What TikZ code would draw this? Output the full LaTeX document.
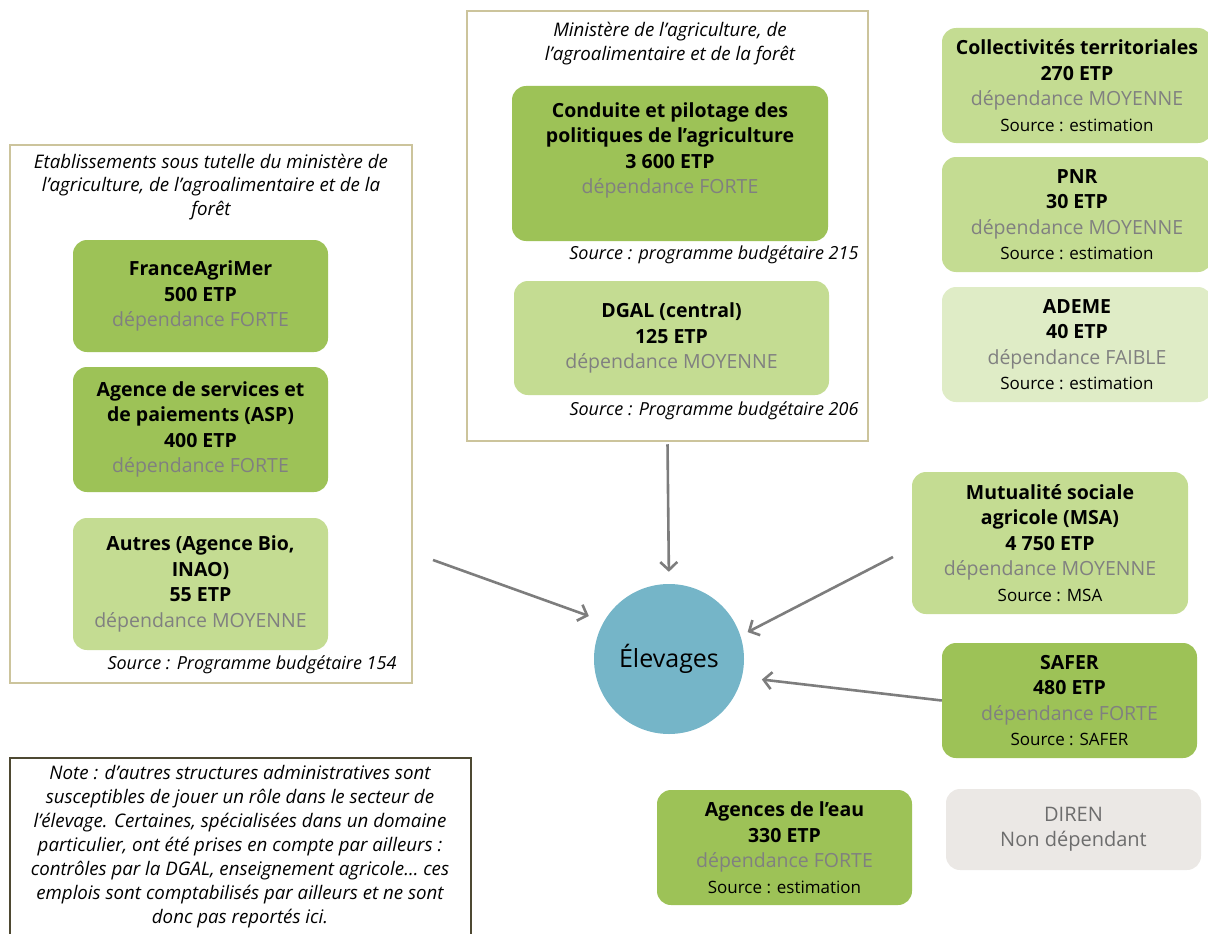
\documentclass[tikz,border=0pt]{standalone}
\usepackage{fontspec}
\setmainfont{Open Sans}
\usetikzlibrary{arrows.meta}
\definecolor{vertfort}{RGB}{157,194,87}
\definecolor{vertmoyen}{RGB}{196,220,146}
\definecolor{vertfaible}{RGB}{223,236,198}
\definecolor{grisnon}{RGB}{235,232,229}
\definecolor{grisdep}{RGB}{128,128,128}
\definecolor{grisfleche}{RGB}{125,125,125}
\definecolor{bleuelev}{RGB}{117,181,200}
\definecolor{kaki}{RGB}{204,196,156}
\definecolor{olive}{RGB}{78,73,50}
\newcommand{\dep}[1]{{\normalfont\color{grisdep}dépendance #1}}
\newcommand{\src}[1]{{\normalfont\fontsize{17}{22}\selectfont #1}}
\tikzset{
	boite/.style={rounded corners=14pt, align=center, inner sep=0pt, font=\fontsize{19.5}{25.5}\selectfont\bfseries},
	forte/.style={boite, fill=vertfort},
	moyenne/.style={boite, fill=vertmoyen},
	faible/.style={boite, fill=vertfaible},
	nondep/.style={boite, fill=grisnon, font=\fontsize{20}{25.5}\selectfont, text=grisdep!85!black},
	cadre/.style={draw=kaki, line width=2.5pt, fill=white, inner sep=0pt},
	titre/.style={align=center, font=\fontsize{18.7}{23.5}\selectfont\itshape},
	source/.style={anchor=east, font=\fontsize{18}{20}\selectfont\itshape},
	fleche/.style={draw=grisfleche, line width=2.6pt, -{Straight Barb[length=8pt,width=17pt]}},
}
\begin{document}
\begin{tikzpicture}[x=1pt,y=-1pt]
	\useasboundingbox (0,0) rectangle (1208,934);
	\node[cadre, minimum width=402pt, minimum height=538pt] (etab) at (211,414) {};
	\node[titre] (etabtitre) at (211,187) {Etablissements sous tutelle du ministère de\\l’agriculture, de l’agroalimentaire et de la\\forêt};
	\node[forte, minimum width=255pt, minimum height=112pt] (fam) at (200.5,296) {FranceAgriMer\\500 ETP\\\dep{FORTE}};
	\node[forte, minimum width=255pt, minimum height=125pt] (asp) at (200.5,429.5) {Agence de services et\\de paiements (ASP)\\400 ETP\\\dep{FORTE}};
	\node[moyenne, minimum width=255pt, minimum height=132pt] (autres) at (200.5,584) {Autres (Agence Bio,\\INAO)\\55 ETP\\\dep{MOYENNE}};
	\node[source] (src154) at (400,665) {Source : Programme budgétaire 154};

	\node[cadre, minimum width=401pt, minimum height=430pt] (minist) at (667.5,226) {};
	\node[titre] (ministitre) at (670,43.5) {Ministère de l’agriculture, de\\l’agroalimentaire et de la forêt};
	\node[forte, minimum width=316pt, minimum height=155pt] (pilot) at (670,163.5) {Conduite et pilotage des\\politiques de l’agriculture\\3 600 ETP\\\dep{FORTE}\\[-2pt]\strut};
	\node[source] (src215) at (862,255) {Source : programme budgétaire 215};
	\node[moyenne, minimum width=315pt, minimum height=114pt] (dgal) at (671.5,338) {DGAL (central)\\125 ETP\\\dep{MOYENNE}};
	\node[source] (src206) at (862,411) {Source : Programme budgétaire 206};

	\node[moyenne, minimum width=270pt, minimum height=115pt] (coll) at (1077,85.5) {Collectivités territoriales\\270 ETP\\\dep{MOYENNE}\\\src{Source : estimation}};
	\node[moyenne, minimum width=270pt, minimum height=115pt] (pnr) at (1077,214.5) {PNR\\30 ETP\\\dep{MOYENNE}\\\src{Source : estimation}};
	\node[faible, minimum width=270pt, minimum height=115pt] (ademe) at (1077,344.5) {ADEME\\40 ETP\\\dep{FAIBLE}\\\src{Source : estimation}};
	\node[moyenne, minimum width=276pt, minimum height=142pt] (msa) at (1050,543) {Mutualité sociale\\agricole (MSA)\\4 750 ETP\\\dep{MOYENNE}\\\src{Source : MSA}};
	\node[forte, minimum width=255pt, minimum height=115pt] (safer) at (1069.5,700.5) {SAFER\\480 ETP\\\dep{FORTE}\\\src{Source : SAFER}};
	\node[forte, minimum width=255pt, minimum height=115pt] (eau) at (784.5,847.5) {Agences de l’eau\\330 ETP\\\dep{FORTE}\\\src{Source : estimation}};
	\node[nondep, minimum width=255pt, minimum height=81pt] (diren) at (1073.5,829.5) {DIREN\\Non dépendant};

	\node[circle, fill=bleuelev, minimum size=150pt, inner sep=0pt, font=\fontsize{25}{30}\selectfont] (elev) at (669,659) {Élevages};

	\node[draw=olive, line width=2.5pt, fill=white, minimum width=461pt, minimum height=190pt, inner sep=0pt] (note) at (240.5,853) {};
	\node[titre, font=\fontsize{18.7}{24}\selectfont\itshape] (notetxt) at (240,847) {Note : d’autres structures administratives sont\\susceptibles de jouer un rôle dans le secteur de\\l’élevage. Certaines, spécialisées dans un domaine\\particulier, ont été prises en compte par ailleurs :\\contrôles par la DGAL, enseignement agricole… ces\\emplois sont comptabilisés par ailleurs et ne sont\\donc pas reportés ici.};

	\coordinate (etabout) at (433,560);
	\coordinate (msaout) at (893,557);
	\draw[fleche, shorten >=16pt] (etabout) -- (elev.150);
	\draw[fleche, shorten <=2pt, shorten >=12pt] (minist.south) -- (elev.north);
	\draw[fleche, shorten >=8pt] (msaout) -- (elev.18);
	\draw[fleche, shorten >=20pt] (safer.west) -- (elev.-14);
\end{tikzpicture}
\end{document}
